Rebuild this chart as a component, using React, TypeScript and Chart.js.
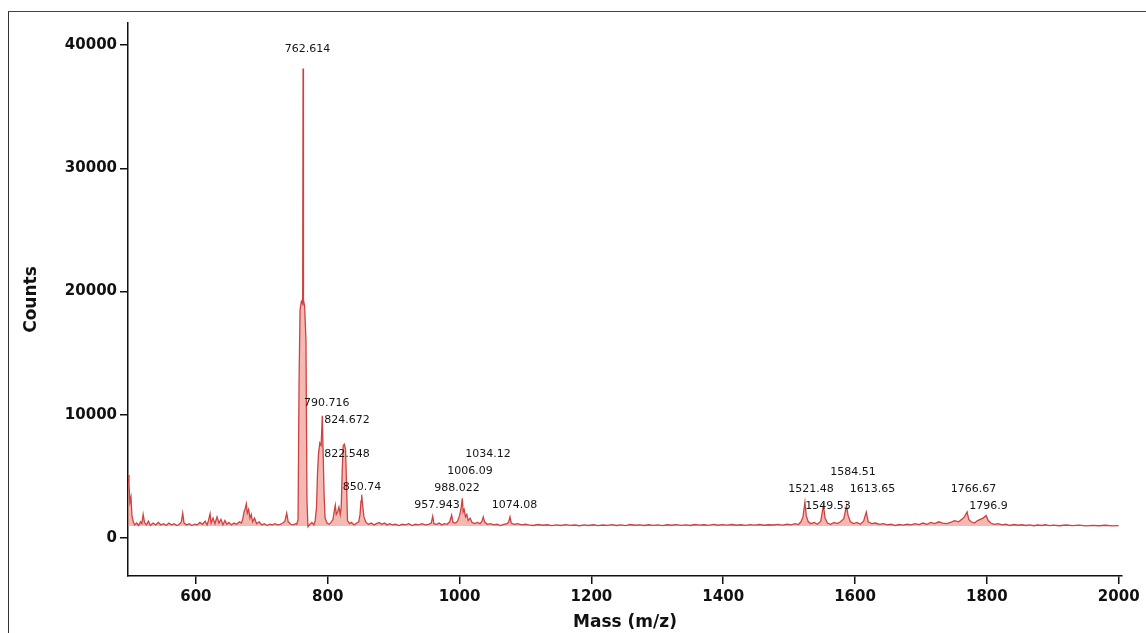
import React, { useEffect, useRef } from "react";
import { Chart, registerables } from "chart.js";

Chart.register(...registerables);

// m/z positions of the spectrum samples
const massMz = [
  497, 498.5, 500, 501.5, 503, 505, 507, 510, 513, 516, 518, 520, 522, 525, 528, 531, 535, 539, 543, 547,
  551, 555, 559, 563, 567, 571, 575, 578, 580, 582, 586, 590, 594, 598, 602, 606, 610, 614, 617, 619,
  621.5, 623, 626, 629, 632, 635, 638, 641, 644, 647, 650, 654, 658, 662, 666, 669, 671, 673, 675, 676.5,
  678, 680, 682, 684, 686, 689, 692, 696, 700, 704, 708, 712, 716, 720, 724, 728, 732, 735, 737.8, 740,
  744, 748, 751, 753, 755, 756.5, 758, 760, 762, 762.6, 763.2, 765, 767, 768.5, 770, 773, 776, 779, 781, 783,
  784.5, 786, 788, 790, 791.8, 793, 794.5, 796, 799, 802, 805, 808, 810, 811.5, 813, 815, 817, 819, 820.5, 822,
  823.5, 825.2, 827, 828.5, 830, 833, 836, 840, 844, 847, 849, 850.5, 851.5, 853, 855, 858, 862, 866, 870, 874,
  878, 882, 886, 890, 894, 898, 903, 908, 913, 918, 923, 928, 933, 938, 943, 948, 953, 957, 959.3, 961,
  965, 969, 973, 977, 981, 985, 988, 990, 994, 997, 1000, 1002, 1004.2, 1005.5, 1007, 1009, 1011, 1013, 1016, 1019,
  1023, 1027, 1031, 1034, 1036, 1038, 1042, 1047, 1052, 1057, 1062, 1067, 1072, 1074.5, 1076.5, 1078.5, 1083, 1088, 1094, 1100,
  1105, 1112, 1119, 1126, 1133, 1140, 1147, 1154, 1161, 1168, 1175, 1182, 1189, 1196, 1203, 1210, 1217, 1224, 1231, 1238,
  1245, 1252, 1259, 1266, 1273, 1280, 1287, 1294, 1301, 1308, 1315, 1322, 1329, 1336, 1343, 1350, 1357, 1364, 1371, 1378,
  1385, 1392, 1399, 1406, 1413, 1420, 1427, 1434, 1441, 1448, 1455, 1462, 1469, 1476, 1483, 1490, 1497, 1503, 1509, 1514,
  1518, 1521, 1524, 1526, 1529, 1533, 1538, 1543, 1548, 1552, 1554.5, 1558, 1563, 1568, 1573, 1578, 1583, 1587, 1589.5, 1593,
  1598, 1603, 1608, 1613, 1617, 1620, 1625, 1631, 1637, 1643, 1649, 1655, 1661, 1667, 1673, 1679, 1685, 1691, 1697, 1703,
  1709, 1715, 1721, 1727, 1733, 1739, 1745, 1751, 1757, 1762, 1766, 1770, 1772.5, 1776, 1781, 1786, 1790, 1794, 1799, 1802,
  1806, 1811, 1817, 1823, 1829, 1835, 1841, 1847, 1853, 1859, 1865, 1871, 1877, 1883, 1889, 1895, 1901, 1910, 1920, 1930,
  1940, 1950, 1960, 1970, 1980, 1990, 2000,
];

// counts at each m/z sample
const counts = [
  5100, 4300, 2900, 3300, 1800, 1300, 1050, 1200, 1000, 1300, 1150, 1900, 1250, 1050, 1350, 1000, 1200, 1050, 1250, 1050,
  1150, 1000, 1200, 1050, 1150, 1000, 1100, 1300, 2000, 1200, 1050, 1150, 1000, 1100, 1050, 1250, 1100, 1350, 1050, 1400,
  1950, 1200, 1600, 1150, 1700, 1200, 1500, 1050, 1400, 1100, 1250, 1050, 1200, 1100, 1300, 1200, 1500, 2100, 2400, 2750,
  2000, 2300, 1600, 1900, 1300, 1600, 1150, 1300, 1050, 1150, 1000, 1100, 1050, 1150, 1050, 1100, 1200, 1350, 2000, 1300,
  1100, 1050, 1150, 1100, 1500, 12500, 18500, 19200, 19000, 38100, 19300, 18800, 16000, 3000, 900, 1100, 1250, 1050, 1400, 2500,
  5200, 6800, 7700, 7500, 9900, 7000, 3500, 1600, 1200, 1100, 1250, 1500, 2200, 2650, 1900, 2100, 2500, 1900, 2500, 5500,
  7500, 7600, 7200, 4500, 1400, 1150, 1250, 1050, 1200, 1300, 1900, 3000, 3500, 2600, 1700, 1250, 1100, 1200, 1050, 1150,
  1250, 1100, 1200, 1050, 1150, 1050, 1100, 1000, 1100, 1050, 1150, 1000, 1100, 1050, 1150, 1050, 1100, 1200, 1750, 1150,
  1100, 1200, 1050, 1150, 1100, 1300, 1850, 1250, 1200, 1350, 1800, 2300, 3200, 2100, 2300, 1700, 1900, 1400, 1600, 1250,
  1150, 1250, 1150, 1350, 1700, 1300, 1100, 1150, 1050, 1100, 1000, 1100, 1150, 1300, 1700, 1200, 1100, 1150, 1050, 1100,
  1050, 1000, 1080, 1020, 1060, 990, 1050, 1000, 1070, 1010, 1040, 980, 1050, 1000, 1060, 990, 1040, 1010, 1070, 1000,
  1050, 990, 1080, 1020, 1050, 1000, 1060, 1010, 1050, 990, 1060, 1020, 1070, 1010, 1050, 1000, 1080, 1030, 1060, 1010,
  1090, 1020, 1070, 1030, 1080, 1020, 1060, 1010, 1070, 1030, 1080, 1020, 1060, 1040, 1090, 1030, 1100, 1050, 1150, 1080,
  1300, 1700, 2900, 1800, 1300, 1150, 1250, 1100, 1350, 2650, 1600, 1200, 1100, 1250, 1150, 1300, 1550, 2600, 1800, 1300,
  1150, 1250, 1100, 1350, 2100, 1300, 1150, 1200, 1100, 1150, 1050, 1100, 1000, 1080, 1030, 1100, 1050, 1150, 1080, 1200,
  1100, 1250, 1150, 1300, 1200, 1150, 1250, 1400, 1300, 1500, 1700, 2100, 1500, 1300, 1200, 1400, 1500, 1600, 1800, 1400,
  1200, 1100, 1150, 1050, 1100, 1000, 1080, 1020, 1060, 1000, 1050, 980, 1040, 1000, 1060, 990, 1030, 980, 1040, 990,
  1030, 970, 1010, 980, 1020, 970, 990,
];

const xTickValues = [600, 800, 1000, 1200, 1400, 1600, 1800, 2000];
const yTickValues = [0, 10000, 20000, 30000, 40000];

// peak annotations: text and anchor (m/z, counts)
const peakLabelText = [
  "762.614", "790.716", "824.672", "822.548", "850.74", "957.943", "988.022", "1006.09",
  "1034.12", "1074.08", "1521.48", "1549.53", "1584.51", "1613.65", "1766.67", "1796.9",
];
const peakLabelMz = [
  769.3, 798.4, 829.2, 829.2, 852.0, 965.8, 996.1, 1015.8,
  1043.2, 1083.4, 1533.2, 1559.0, 1596.9, 1626.5, 1779.7, 1802.5,
];
const peakLabelCounts = [
  39700, 10950, 9525, 6805, 4085, 2665, 4045, 5425,
  6805, 2665, 3964, 2583, 5344, 3964, 3964, 2583,
];

const FONT = "'DejaVu Sans', 'Liberation Sans', Arial, sans-serif";

export default function App() {
  const canvasRef = useRef<HTMLCanvasElement>(null);

  useEffect(() => {
    if (!canvasRef.current) return;
    const labelPlugin = {
      id: "peakLabels",
      afterDatasetsDraw(chart: any) {
        const { ctx, scales } = chart;
        ctx.save();
        ctx.font = `11px ${FONT}`;
        ctx.fillStyle = "#151515";
        ctx.textAlign = "center";
        ctx.textBaseline = "middle";
        peakLabelText.forEach((t, i) => {
          ctx.fillText(
            t,
            scales.x.getPixelForValue(peakLabelMz[i]),
            scales.y.getPixelForValue(peakLabelCounts[i])
          );
        });
        ctx.restore();
      },
    };

    const chart = new Chart(canvasRef.current, {
      type: "line",
      data: {
        datasets: [
          {
            data: massMz.map((m, i) => ({ x: m, y: counts[i] })),
            borderColor: "rgb(206,66,66)",
            borderWidth: 1.3,
            backgroundColor: "rgba(236,128,118,0.55)",
            fill: { value: 950 },
            pointRadius: 0,
            tension: 0,
          },
        ],
      },
      options: {
        responsive: false,
        animation: false,
        layout: { padding: { left: 0, top: 23, right: 24, bottom: 0 } },
        plugins: {
          legend: { display: false },
          tooltip: { enabled: false },
        },
        scales: {
          x: {
            type: "linear",
            min: 497,
            max: 2005,
            afterBuildTicks: (s: any) => {
              s.ticks = xTickValues.map((v) => ({ value: v }));
            },
            afterFit: (s: any) => {
              s.height = 57;
            },
            grid: {
              display: true,
              drawOnChartArea: false,
              drawTicks: true,
              tickLength: 8,
              color: "#111",
              lineWidth: 1.5,
            },
            border: { display: true, color: "#111", width: 1.5 },
            ticks: {
              font: { family: FONT, weight: "bold", size: 15 },
              color: "#111",
              padding: 4,
              maxRotation: 0,
              autoSkip: false,
              callback: (v: any) => String(v),
            },
            title: {
              display: true,
              text: "Mass (m/z)",
              font: { family: FONT, weight: "bold", size: 17 },
              color: "#111",
              padding: { top: 2, bottom: 0 },
            },
          },
          y: {
            type: "linear",
            min: -3100,
            max: 41800,
            afterBuildTicks: (s: any) => {
              s.ticks = yTickValues.map((v) => ({ value: v }));
            },
            afterFit: (s: any) => {
              s.width = 128;
            },
            grid: {
              display: true,
              drawOnChartArea: false,
              drawTicks: true,
              tickLength: 8,
              color: "#111",
              lineWidth: 1.5,
            },
            border: { display: true, color: "#111", width: 1.5 },
            ticks: {
              font: { family: FONT, weight: "bold", size: 15 },
              color: "#111",
              padding: 3,
              autoSkip: false,
              callback: (v: any) => String(v),
            },
            title: {
              display: true,
              text: "Counts",
              font: { family: FONT, weight: "bold", size: 17 },
              color: "#111",
              padding: { top: 21, bottom: 0 },
            },
          },
        },
      },
      plugins: [labelPlugin],
    } as any);

    return () => chart.destroy();
  }, []);

  return (
    <div
      style={{
        position: "fixed",
        left: 0,
        top: 0,
        width: 1146,
        height: 633,
        background: "#fff",
        overflow: "hidden",
      }}
    >
      <div
        style={{
          position: "absolute",
          left: 8,
          top: 11,
          width: 1138,
          height: 622,
          borderLeft: "1.5px solid #333",
          borderTop: "1.5px solid #444",
          boxSizing: "border-box",
        }}
      />
      <canvas
        ref={canvasRef}
        width={1146}
        height={633}
        style={{ position: "absolute", left: 0, top: 0, width: 1146, height: 633 }}
      />
    </div>
  );
}
